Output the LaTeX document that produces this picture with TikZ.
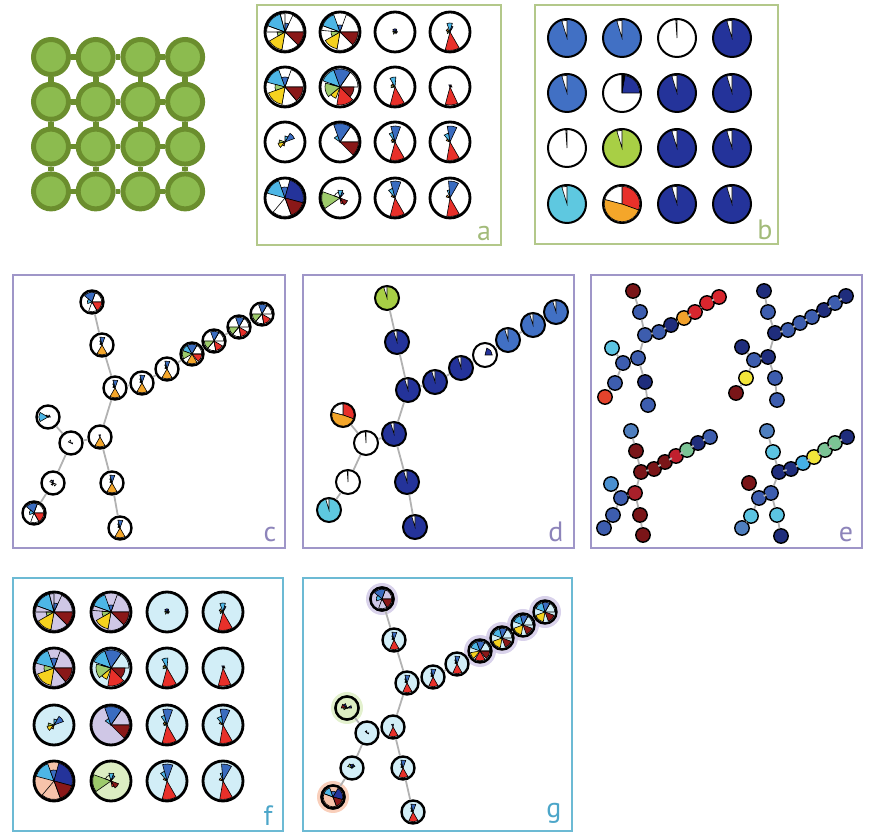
\documentclass[tikz,border=0pt]{standalone}
\usepackage{fontspec}
\setmainfont{PT Sans}
\definecolor{fgreen}{HTML}{B3C88A}
\definecolor{fpurple}{HTML}{9F96C8}
\definecolor{fteal}{HTML}{6CBAD4}
\definecolor{labA}{HTML}{A3BB7A}
\definecolor{labC}{HTML}{8D84BA}
\definecolor{labF}{HTML}{4CA6C9}
\definecolor{lgreen}{HTML}{8CBB4F}
\definecolor{dgreen}{HTML}{6B8E2E}
\definecolor{cyanA}{HTML}{4DB6E6}
\definecolor{blueA}{HTML}{3A6CC0}
\definecolor{blueB}{HTML}{4170C4}
\definecolor{navy}{HTML}{24339A}
\definecolor{dred}{HTML}{8A1818}
\definecolor{redA}{HTML}{E8302A}
\definecolor{yel}{HTML}{F5D21E}
\definecolor{lgr}{HTML}{9DCB6B}
\definecolor{orng}{HTML}{F4A62A}
\definecolor{ygreen}{HTML}{A8CF45}
\definecolor{cyanB}{HTML}{5EC8E0}
\definecolor{bgblue}{HTML}{D2EEF7}
\definecolor{bglav}{HTML}{CFC7E6}
\definecolor{bgsal}{HTML}{F7C3AA}
\definecolor{bggrn}{HTML}{DCEDC2}
\definecolor{eRed}{HTML}{D8262E}
\definecolor{eCrim}{HTML}{C0202E}
\definecolor{eRedD}{HTML}{A8202A}
\definecolor{eDred}{HTML}{7A1518}
\definecolor{eOrange}{HTML}{F2A12B}
\definecolor{eBlue}{HTML}{3D5DAE}
\definecolor{eNavy}{HTML}{1F2D7C}
\definecolor{eCyan}{HTML}{5CC4E2}
\definecolor{eCyanL}{HTML}{45B0E5}
\definecolor{eYel}{HTML}{F2E53A}
\definecolor{eLgreen}{HTML}{7BC495}
\definecolor{eSteel}{HTML}{4F7FBF}
\definecolor{eSteelL}{HTML}{4A90D0}
\definecolor{eRedOr}{HTML}{E4432C}
\tikzset{
 frA/.style={draw=fgreen,line width=1.2pt},
 frC/.style={draw=fpurple,line width=1.2pt},
 frF/.style={draw=fteal,line width=1.2pt},
 lab/.style={font=\fontsize{14}{14}\selectfont,anchor=base,inner sep=0pt},
 latt/.style={circle,draw=dgreen,fill=lgreen,line width=2.5pt,minimum size=17.5pt,inner sep=0pt},
 lbar/.style={draw=dgreen,line width=2.8pt},
 roseA/.style={circle,draw=black,line width=1.4pt,minimum size=20pt,inner sep=0pt,fill=white},
 pieB/.style={circle,draw=black,line width=1pt,minimum size=19pt,inner sep=0pt},
 tnode/.style={circle,draw=black,line width=1.2pt,minimum size=11.5pt,inner sep=0pt,fill=white},
 dnode/.style={circle,draw=black,line width=1pt,minimum size=12pt,inner sep=0pt},
 enode/.style={circle,draw=black,line width=0.7pt,minimum size=7.2pt,inner sep=0pt},
 tedge/.style={draw=black!30,line width=0.9pt},
 wdg/.style={draw=black,line width=0.3pt},
}
\newcommand\rose[3]{%
  \foreach \pa/\pb/\ff/\cl in #3 {
    \filldraw[wdg,fill=\cl] (#1.center) -- ++(\pa:{\ff*#2}) arc[start angle=\pa,end angle=\pb,radius={\ff*#2}] -- cycle;
  }}
% grid a / f wedge lists
\def\wAa{200/255/.92/cyanA,255/270/.92/none,270/295/.45/blueA,295/360/.92/none,0/45/.92/dred,45/100/.92/none,100/150/.9/yel,150/180/.4/lgr,180/200/.92/none}
\def\wAb{200/250/.92/cyanA,250/290/.35/blueA,290/360/.92/none,0/45/.9/dred,45/100/.92/none,100/150/.85/yel,150/185/.45/lgr,185/200/.92/none}
\def\wAc{230/300/.16/navy,300/360/.12/cyanA,0/60/.1/dred,120/200/.12/lgr}
\def\wAd{60/105/.92/redA,250/285/.45/cyanA,285/300/.3/blueA,200/230/.2/orng,150/190/.15/lgr}
\def\wBa{195/250/.92/cyanA,250/290/.5/blueA,290/360/.92/none,0/50/.9/dred,50/100/.92/none,100/160/.88/yel,160/195/.5/lgr}
\def\wBb{200/250/.9/cyanA,250/305/.9/blueA,305/360/.9/none,0/45/.7/dred,45/100/.9/redA,110/140/.6/yel,140/195/.75/lgr,195/200/.5/navy}
\def\wBc{60/105/.92/redA,240/275/.5/cyanA,200/230/.2/orng,170/200/.2/lgr}
\def\wBd{65/105/.9/redA,240/300/.12/navy,300/360/.1/dred}
\def\wCa{300/340/.5/blueA,270/300/.3/cyanA,130/170/.35/yel,170/200/.3/lgr,100/130/.2/orng}
\def\wCb{215/250/.35/cyanA,250/305/.92/blueA,305/360/.92/none,0/45/.92/dred}
\def\wCc{60/105/.92/redA,255/290/.8/blueA,235/255/.5/cyanA,195/225/.2/orng,170/195/.15/lgr}
\def\wCd{60/100/.92/redA,260/295/.8/blueA,230/260/.45/cyanA,200/225/.2/orng}
\def\wDa{195/250/.92/cyanA,250/285/.55/blueA,285/375/.92/navy,15/70/.92/dred,70/130/.92/none}
\def\wDb{145/200/.92/lgr,200/255/.3/none,255/290/.4/cyanA,290/310/.3/blueA,20/60/.4/dred,60/80/.3/redA}
\def\wDc{60/105/.92/redA,255/290/.85/blueA,230/255/.5/cyanA,200/225/.2/orng}
\def\wDd{60/100/.92/redA,265/300/.85/blueA,250/265/.4/cyanA,195/225/.2/orng}
% pies
\def\wS{253/270/.93/white}
\def\wLine{266/270/.93/white}
\def\wTri{270/380/.93/redA,20/195/.93/orng,195/270/.93/white}
\def\wQ{270/360/.93/navy,270/280/.93/black}
\def\wQd{285/360/.6/navy}
% tree c lists
\def\tcA{220/290/.85/blueA,290/360/.85/none,0/60/.85/redA,60/110/.85/none,160/220/.4/cyanA}
\def\tcB{255/290/.7/blueA,240/255/.4/cyanA,60/120/.85/orng,200/230/.2/lgr}
\def\tcC{240/300/.85/blueA,200/240/.85/cyanA,150/200/.85/lgr,60/120/.85/orng,0/50/.85/redA,300/360/.85/none}
\def\tcD{250/300/.85/blueA,300/360/.85/none,130/180/.85/lgr,30/80/.85/redA,80/130/.85/none}
\def\tcE{60/120/.85/orng,240/280/.2/navy}
\def\tcF{150/210/.8/cyanA,300/360/.2/navy,210/240/.2/dred}
\def\tcG{200/260/.25/none,0/30/.15/navy}
\def\tcH{200/240/.3/none,240/280/.25/navy,20/60/.3/none,100/140/.2/lgr}
% tree g lists
\def\tgA{220/290/.85/blueA,160/220/.5/cyanA,290/360/.85/none,0/60/.85/dred,60/110/.85/none}
\def\tgB{255/290/.7/blueA,240/255/.4/cyanA,60/115/.85/redA,200/230/.2/lgr}
\def\tgC{200/250/.85/cyanA,250/300/.85/blueA,130/170/.85/yel,60/120/.85/redA,0/50/.85/dred,300/360/.85/none}
\def\tgD{200/255/.85/cyanA,255/300/.85/blueA,100/160/.85/yel,20/70/.85/dred,300/360/.85/none}
\def\tgE{60/115/.85/redA,240/280/.25/navy}
\def\tgF{180/220/.5/dred,220/250/.4/navy,330/360/.4/navy,150/180/.3/lgr}
\def\tgG{220/260/.2/navy,0/30/.15/navy}
\def\tgH{200/240/.4/lgr,240/290/.35/navy,300/330/.3/blueA}
\def\tgI{200/250/.85/cyanA,250/300/.5/blueA,300/375/.85/navy,15/70/.85/dred,70/200/.85/none}
\def\tedges{1/2,2/3,3/4,4/5,5/6,6/7,7/8,8/9,3/10,10/11,11/12,10/14,14/13,14/15,15/16}
\begin{document}
\begin{tikzpicture}[x=0.5pt,y=-0.5pt]
\useasboundingbox (0,0) rectangle (874,833);
% frames
\draw[frA] (257,5) rectangle (501,245);
\draw[frA] (535,5) rectangle (778,244);
\draw[frC] (13,275) rectangle (285,548);
\draw[frC] (303,275) rectangle (574,548);
\draw[frC] (591,275) rectangle (862,548);
\draw[frF] (13,578) rectangle (283,831);
\draw[frF] (303,578) rectangle (572,831);
% labels
\node[lab,text=labA] (la) at (484,241) {a};
\node[lab,text=labA] (lb) at (765,240) {b};
\node[lab,text=labC] (lc) at (270,542) {c};
\node[lab,text=labC] (ld) at (556,542) {d};
\node[lab,text=labC] (le) at (846,542) {e};
\node[lab,text=labF] (lf) at (268,826) {f};
\node[lab,text=labF] (lg) at (554,818) {g};
% lattice
\foreach \i in {1,...,4}{\foreach \j in {1,...,4}{
  \node[latt] (L\i\j) at ({51+44.7*(\i-1)},{57+44.8*(\j-1)}) {};}}
\foreach \i in {1,...,4}{\foreach \j/\k in {1/2,2/3,3/4}{
  \draw[lbar] (L\i\j) -- (L\i\k); \draw[lbar] (L\j\i) -- (L\k\i);}}
% grid a
\foreach \r/\y in {1/32,2/87,3/142,4/198}{\foreach \c/\x in {1/285,2/340,3/395,4/450}{
  \node[roseA] (a\r\c) at (\x,\y) {};}}
\rose{a11}{20}{\wAa}\rose{a12}{20}{\wAb}\rose{a13}{20}{\wAc}\rose{a14}{20}{\wAd}
\rose{a21}{20}{\wBa}\rose{a22}{20}{\wBb}\rose{a23}{20}{\wBc}\rose{a24}{20}{\wBd}
\rose{a31}{20}{\wCa}\rose{a32}{20}{\wCb}\rose{a33}{20}{\wCc}\rose{a34}{20}{\wCd}
\rose{a41}{20}{\wDa}\rose{a42}{20}{\wDb}\rose{a43}{20}{\wDc}\rose{a44}{20}{\wDd}
% grid f
\node[roseA,fill=bglav] (f11) at (54,612) {};
\node[roseA,fill=bglav] (f12) at (111,612) {};
\node[roseA,fill=bgblue] (f13) at (167,612) {};
\node[roseA,fill=bgblue] (f14) at (223,612) {};
\node[roseA,fill=bglav] (f21) at (54,668) {};
\node[roseA,fill=bgblue] (f22) at (111,668) {};
\node[roseA,fill=bgblue] (f23) at (167,668) {};
\node[roseA,fill=bgblue] (f24) at (223,668) {};
\node[roseA,fill=bgblue] (f31) at (54,725) {};
\node[roseA,fill=bglav] (f32) at (111,725) {};
\node[roseA,fill=bgblue] (f33) at (167,725) {};
\node[roseA,fill=bgblue] (f34) at (223,725) {};
\node[roseA,fill=bgsal] (f41) at (54,781) {};
\node[roseA,fill=bggrn] (f42) at (111,781) {};
\node[roseA,fill=bgblue] (f43) at (167,781) {};
\node[roseA,fill=bgblue] (f44) at (223,781) {};
\rose{f11}{20}{\wAa}\rose{f12}{20}{\wAb}\rose{f13}{20}{\wAc}\rose{f14}{20}{\wAd}
\rose{f21}{20}{\wBa}\rose{f22}{20}{\wBb}\rose{f23}{20}{\wBc}\rose{f24}{20}{\wBd}
\rose{f31}{20}{\wCa}\rose{f32}{20}{\wCb}\rose{f33}{20}{\wCc}\rose{f34}{20}{\wCd}
\rose{f41}{20}{\wDa}\rose{f42}{20}{\wDb}\rose{f43}{20}{\wDc}\rose{f44}{20}{\wDd}
% grid b
\node[pieB,fill=blueB] (b11) at (567,38) {};
\node[pieB,fill=blueB] (b12) at (622,38) {};
\node[pieB,fill=white] (b13) at (677,38) {};
\node[pieB,fill=navy] (b14) at (732,38) {};
\node[pieB,fill=blueB] (b21) at (567,93) {};
\node[pieB,fill=white] (b22) at (622,93) {};
\node[pieB,fill=navy] (b23) at (677,93) {};
\node[pieB,fill=navy] (b24) at (732,93) {};
\node[pieB,fill=white] (b31) at (567,148) {};
\node[pieB,fill=ygreen] (b32) at (622,148) {};
\node[pieB,fill=navy] (b33) at (677,148) {};
\node[pieB,fill=navy] (b34) at (732,148) {};
\node[pieB,fill=cyanB] (b41) at (567,204) {};
\node[pieB,fill=white] (b42) at (622,204) {};
\node[pieB,fill=navy] (b43) at (677,204) {};
\node[pieB,fill=navy] (b44) at (732,204) {};
\rose{b11}{19}{\wS}\rose{b12}{19}{\wS}\rose{b13}{19}{\wLine}\rose{b14}{19}{\wS}
\rose{b21}{19}{\wS}\rose{b22}{19}{\wQ}\rose{b23}{19}{\wS}\rose{b24}{19}{\wS}
\rose{b31}{19}{\wLine}\rose{b32}{19}{\wS}\rose{b33}{19}{\wS}\rose{b34}{19}{\wS}
\rose{b41}{19}{\wS}\rose{b42}{19}{\wTri}\rose{b43}{19}{\wS}\rose{b44}{19}{\wS}
% tree c
\foreach \n/\x/\y in {1/92/302,2/102/345,3/115/388,4/142/383,5/167/369,6/192/354,7/214/341,8/239/327,9/262/314,10/100/437,11/112/483,12/120/528,13/48/417,14/71/443,15/53/483,16/34/513}{
  \node[tnode] (c\n) at (\x,\y) {};}
\foreach \u/\v in \tedges {\draw[tedge] (c\u) -- (c\v);}
\rose{c1}{11.5}{\tcA}\rose{c2}{11.5}{\tcB}\rose{c3}{11.5}{\tcB}\rose{c4}{11.5}{\tcB}
\rose{c5}{11.5}{\tcB}\rose{c6}{11.5}{\tcC}\rose{c7}{11.5}{\tcD}\rose{c8}{11.5}{\tcD}
\rose{c9}{11.5}{\tcD}\rose{c10}{11.5}{\tcE}\rose{c11}{11.5}{\tcB}\rose{c12}{11.5}{\tcB}
\rose{c13}{11.5}{\tcF}\rose{c14}{11.5}{\tcG}\rose{c15}{11.5}{\tcH}\rose{c16}{11.5}{\tcA}
% tree d
\foreach \n/\x/\y/\cl in {1/387/298/ygreen,2/397/342/navy,3/408/390/navy,4/435/382/navy,5/461/368/navy,6/485/355/white,7/508/340/blueB,8/533/325/blueB,9/556/312/blueB,10/394/434/navy,11/407/482/navy,12/415/527/navy,13/343/415/white,14/366/443/white,15/348/482/white,16/329/510/cyanB}{
  \node[dnode,fill=\cl] (d\n) at (\x,\y) {};}
\foreach \u/\v in \tedges {\draw[tedge] (d\u) -- (d\v);}
\rose{d1}{12}{\wS}\rose{d2}{12}{\wS}\rose{d3}{12}{\wS}\rose{d4}{12}{\wS}
\rose{d5}{12}{\wS}\rose{d6}{12}{\wQd}\rose{d7}{12}{\wS}\rose{d8}{12}{\wS}
\rose{d9}{12}{\wS}\rose{d10}{12}{\wS}\rose{d11}{12}{\wS}\rose{d12}{12}{\wS}
\rose{d13}{12}{\wTri}\rose{d14}{12}{\wLine}\rose{d15}{12}{\wLine}\rose{d16}{12}{\wS}
% tree g
\foreach \n/\x/\y in {1/382/599,2/394/640,3/407/683,4/433/677,5/457/664,6/480/651,7/502/638,8/523/625,9/545/612,10/393/727,11/403/768,12/413/812,13/347/708,14/367/733,15/352/768,16/333/797}{
  \coordinate (gp\n) at (\x,\y);}
\foreach \n/\cl in {1/bglav,6/bglav,7/bglav,8/bglav,9/bglav,13/bggrn,16/bgsal}{
  \fill[\cl,opacity=.8] (gp\n) circle (16);}
\foreach \n in {1,...,16}{\node[tnode,fill=bgblue] (g\n) at (gp\n) {};}
\node[tnode,fill=bglav] at (g1) {};
\node[tnode,fill=bggrn] at (g13) {};
\node[tnode,fill=bgsal] at (g16) {};
\foreach \u/\v in \tedges {\draw[tedge] (g\u) -- (g\v);}
\rose{g1}{11.5}{\tgA}\rose{g2}{11.5}{\tgB}\rose{g3}{11.5}{\tgB}\rose{g4}{11.5}{\tgB}
\rose{g5}{11.5}{\tgB}\rose{g6}{11.5}{\tgC}\rose{g7}{11.5}{\tgD}\rose{g8}{11.5}{\tgD}
\rose{g9}{11.5}{\tgD}\rose{g10}{11.5}{\tgE}\rose{g11}{11.5}{\tgB}\rose{g12}{11.5}{\tgB}
\rose{g13}{11.5}{\tgF}\rose{g14}{11.5}{\tgG}\rose{g15}{11.5}{\tgH}\rose{g16}{11.5}{\tgI}
% trees e
\foreach \n/\x/\y/\cl in {1/633/291/eDred,2/640/312/eBlue,3/645/335/eBlue,4/659/332/eBlue,5/671/325/eNavy,6/684/318/eOrange,7/695/312/eRed,8/707/303/eRed,9/719/297/eRed,10/638/358/eBlue,11/645/382/eNavy,12/648/405/eBlue,13/612/348/eCyan,14/623/363/eBlue,15/615/383/eBlue,16/605/397/eRedOr}{
  \node[enode,fill=\cl] (eA\n) at (\x,\y) {};}
\foreach \n/\x/\y/\cl in {1/764/291/eNavy,2/768/312/eBlue,3/775/333/eNavy,4/788/330/eBlue,5/800/323/eBlue,6/812/317/eBlue,7/824/310/eNavy,8/835/303/eBlue,9/846/296/eNavy,10/768/357/eNavy,11/775/378/eBlue,12/777/400/eBlue,13/742/347/eNavy,14/754/360/eBlue,15/746/378/eYel,16/736/393/eDred}{
  \node[enode,fill=\cl] (eB\n) at (\x,\y) {};}
\foreach \n/\x/\y/\cl in {1/631/431/eSteel,2/636/451/eDred,3/641/472/eDred,4/654/469/eDred,5/665/462/eDred,6/676/456/eCrim,7/687/450/eLgreen,8/698/443/eNavy,9/710/437/eBlue,10/635/493/eRedD,11/640/515/eDred,12/643/535/eDred,13/611/484/eSteelL,14/621/498/eBlue,15/613/515/eBlue,16/604/528/eBlue}{
  \node[enode,fill=\cl] (eC\n) at (\x,\y) {};}
\foreach \n/\x/\y/\cl in {1/767/431/eSteel,2/773/452/eCyan,3/779/472/eNavy,4/791/469/eNavy,5/803/463/eCyanL,6/814/457/eYel,7/825/450/eLgreen,8/835/443/eLgreen,9/847/437/eNavy,10/771/493/eBlue,11/777/515/eCyan,12/781/536/eNavy,13/749/483/eDred,14/759/498/eBlue,15/751/516/eCyan,16/742/528/eSteel}{
  \node[enode,fill=\cl] (eD\n) at (\x,\y) {};}
\foreach \t in {eA,eB,eC,eD}{\foreach \u/\v in \tedges {\draw[tedge] (\t\u) -- (\t\v);}}
\end{tikzpicture}
\end{document}
